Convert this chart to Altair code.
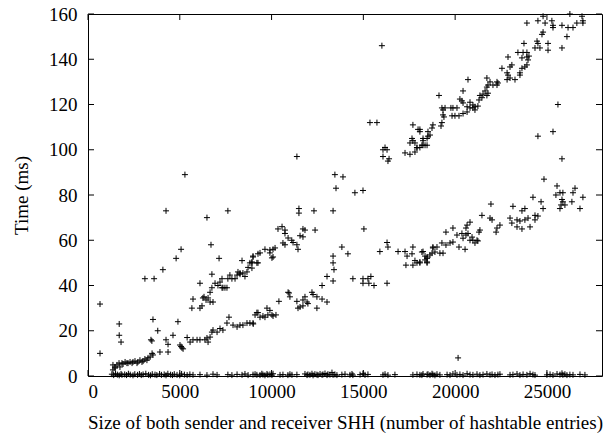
import altair as alt
import pandas as pd

# ---- data ----
x_ticks = [0, 5000, 10000, 15000, 20000, 25000]
y_ticks = [0, 20, 40, 60, 80, 100, 120, 140, 160]

# points lying on/near zero
zero_x = [1300, 1400, 1500, 1600, 1700, 1800, 1850, 2000, 2100, 2200, 2300, 2450, 2550, 2700, 2800,
          2900, 3000, 3150, 3300, 3400, 3500, 3650, 3750, 3900, 4000, 4150, 4250, 4350, 4500, 4600,
          4700, 4850, 5000, 5100, 5250, 5400, 5550, 5720, 6100, 6480, 6810, 7030, 7620, 7840, 8120,
          8390, 8550, 8720, 8990, 9200, 9100, 9370, 9470, 9530, 9640, 9750, 9800, 9910, 10020, 10080,
          10460, 10620, 10890, 11000, 11110, 11380, 11820, 11930, 11980, 12090, 12200, 12260, 12360,
          12470, 12530, 12640, 12750, 12800, 12910, 13020, 13070, 13180, 13290, 13350, 13450, 13560,
          13830, 14000, 14270, 14380, 14430, 14820, 14980, 15090, 15250, 16070, 16180, 16340, 16720,
          17700, 17920, 18190, 18250, 18470, 18080, 18520, 18630, 18740, 18790, 18900, 19010, 19170,
          19560, 19720, 19880, 20100, 20260, 20430, 20650, 20810, 20970, 21190, 21350, 21520, 21730,
          21900, 22010, 22170, 22330, 22440, 22990, 23150, 23370, 23530, 23700, 23910, 24080, 24240,
          24350, 25000, 25170, 25330, 25550, 25710, 25820, 25870, 25980, 26090, 26250, 26420, 26800,
          27070]
zero_y = [0.8, 0.4, 1.0, 0.6, 0.3, 0.9, 0.5, 0.7, 0.4, 1.0, 0.6, 0.3, 0.8, 0.5, 0.9,
          0.4, 0.7, 1.0, 0.5, 0.3, 0.8, 0.6, 0.4, 0.9, 0.5, 0.7, 0.3, 1.0, 0.6, 0.4,
          0.8, 0.5, 0.3, 0.9, 0.6, 0.4, 0.7, 0.5, 0.6, 0.4, 0.8, 0.5, 0.6, 0.4, 0.7,
          0.5, 0.9, 0.4, 0.6, 0.5, 0.8, 0.4, 1.0, 0.6, 0.3, 0.9, 0.5, 0.7, 0.4, 1.0,
          0.5, 0.6, 0.4, 0.8, 0.5, 0.6, 0.9, 0.4, 0.7, 0.5, 1.0, 0.3, 0.8, 0.6,
          0.4, 0.9, 0.5, 0.7, 1.1, 0.4, 0.8, 0.6, 1.5, 0.5, 0.7, 0.4,
          0.6, 0.8, 0.5, 0.9, 0.4, 0.6, 1.0, 0.5, 0.7, 0.5, 0.8, 0.4, 0.6,
          0.5, 0.7, 0.4, 0.9, 0.6, 0.5, 0.8, 0.4, 1.0, 0.6, 0.3, 0.8, 0.5,
          0.6, 0.4, 0.9, 0.5, 0.7, 0.4, 1.0, 0.6, 0.5, 0.8, 0.4, 0.6, 0.9,
          0.5, 0.7, 0.4, 0.6, 0.8, 0.5, 0.6, 0.9, 0.4, 0.7, 0.5, 1.0, 0.6,
          0.4, 0.5, 0.7, 0.4, 0.9, 0.6, 1.2, 0.5, 0.8, 0.4, 0.6, 0.5, 0.7,
          0.5]

# lowest rising band
lower_x = [1360, 1470, 1360, 1690, 1850, 2020, 2120, 2290, 2450, 2560, 2720, 2830, 3000, 3210, 3270,
           3380, 3490, 3540, 1470, 1580, 1740, 1910, 2180, 2400, 2670, 2940, 3100,
           5010, 5120, 5560, 5720, 5940, 6100, 6370, 6480, 6540, 6650, 6750, 6810, 7030, 7190, 7350,
           7570, 7680, 7900, 8120, 8280, 8440, 8660, 8820, 8990, 9100, 9200,
           9000, 9260, 9370, 9530, 9640, 9750, 9800, 9910, 10020, 10080, 10240, 10400, 10900, 11000,
           10950, 11380, 11440, 11550, 11710, 11820, 11930, 11980, 11710, 12200, 12260, 12470, 12470,
           12750, 13020,
           13020, 13350, 12750, 13350, 13350, 13400, 14430, 14980, 15250, 15410, 14980, 15300, 15580,
           16290, 16290, 16340, 15900, 16890, 17270, 17380, 17700, 17650, 17320, 17700, 17810, 17920,
           18080, 18250, 18360, 18470, 18470, 19340, 19170, 18900, 18630, 18470, 18360, 18470, 18190,
           18080, 18790, 18740, 19010, 18790, 19280, 19500, 19720, 19880, 20540, 20210, 21350, 21300,
           21240, 21080, 21190, 20970, 20810, 20920, 20700, 20590, 20430, 20370, 20100, 19500, 19880,
           20590, 20650, 20810, 22230, 22280, 22440, 21460, 22010, 21900, 21950, 23970, 23800, 23530,
           23370, 23090, 22990, 23640, 23370, 24080, 24350, 24510, 24350, 23800, 23640, 23150, 24790,
           24680, 24240, 25490, 25710, 25820, 25870, 25770, 25980, 25710, 26420, 26360, 26800, 26960,
           25550, 25870, 26530]
lower_y = [4.9, 3.5, 2.7, 5.7, 5.7, 6.2, 5.7, 6.2, 6.2, 6.6, 6.2, 7.0, 6.6, 7.0, 8.0,
           8.4, 10.0, 9.3, 4.0, 4.9, 4.0, 5.3, 5.7, 5.7, 5.7, 6.2, 7.5,
           13.7, 12.4, 15.0, 16.0, 16.0, 16.0, 16.0, 16.8, 15.0, 17.2, 19.4, 20.3, 19.4, 21.0, 20.3,
           23.4, 26.0, 22.5, 21.7, 22.5, 22.5, 23.4, 23.4, 23.4, 27.0, 28.0,
           23.0, 28.0, 26.0, 26.5, 26.0, 30.0, 27.0, 29.0, 27.0, 26.5, 27.0, 33.0, 37.0, 35.0,
           36.7, 33.0, 30.0, 30.5, 33.6, 35.0, 32.7, 32.0, 31.0, 37.0, 36.0, 35.0, 30.0,
           34.0, 32.7,
           44.0, 42.0, 40.0, 53.0, 50.0, 47.0, 43.0, 43.0, 43.0, 44.0, 41.0, 41.0, 40.0,
           41.0, 59.0, 57.0, 55.0, 55.0, 55.0, 53.0, 57.0, 54.0, 49.0, 49.0, 51.0, 50.0,
           50.0, 55.0, 53.0, 52.0, 50.0, 54.3, 54.3, 54.8, 53.5, 52.6, 51.3, 50.4, 54.8,
           50.4, 56.6, 54.3, 57.0, 57.0, 58.8, 57.9, 58.8, 59.2, 56.0, 57.0, 64.5, 63.6,
           59.7, 58.8, 60.0, 60.0, 60.0, 61.4, 63.0, 62.3, 60.9, 63.0, 62.3, 63.6, 65.4,
           65.4, 66.7, 68.0, 63.6, 65.4, 66.7, 71.0, 69.0, 69.8, 76.0, 69.8, 69.0, 68.5,
           69.0, 67.6, 69.8, 65.0, 65.9, 65.9, 69.0, 70.7, 71.0, 74.0, 73.0, 75.0, 74.0,
           77.0, 79.0, 80.0, 81.0, 78.0, 77.0, 75.6, 75.6, 74.0, 81.0, 77.0, 74.0, 79.0,
           84.0, 81.0, 83.0]

# middle band (6000 - 12000)
middle_x = [5720, 5660, 6100, 6210, 6260, 6320, 6430, 6540, 6810, 6650, 6750, 6920, 7080, 7190, 7300,
            7350, 7570, 7620, 7730, 7840, 8010, 8120, 8170, 8280, 8390, 8280, 8440, 8550, 8660, 8720,
            8820, 8930, 8990, 9200, 9260, 6650, 7460, 7300,
            9640, 9910, 10080, 10190, 9910, 10080, 10020, 9370, 9260, 8990, 8930, 8930,
            10350, 10570, 10730, 10730, 11710, 11820, 12370, 10900, 11100, 11170, 10620, 10730,
            11380, 11440, 11550, 11710, 11490, 11490, 12310, 13350]
middle_y = [34.0, 30.0, 30.0, 31.0, 34.5, 35.0, 33.6, 34.5, 32.7, 37.0, 39.0, 41.0, 40.0, 41.5, 43.0,
            39.0, 39.0, 43.0, 44.6, 43.0, 43.0, 44.6, 46.0, 45.5, 51.0, 45.0, 45.5, 44.0, 46.0, 48.0,
            50.0, 50.4, 53.0, 50.0, 54.0, 32.7, 39.0, 39.0,
            56.0, 55.7, 56.0, 56.6, 54.4, 52.6, 52.2, 54.4, 50.0, 52.6, 50.0, 47.7,
            65.0, 66.0, 64.5, 63.0, 65.0, 64.5, 64.5, 61.0, 60.0, 59.0, 58.8, 58.0,
            58.0, 56.0, 62.0, 61.5, 74.0, 72.0, 73.0, 73.0]

# upper band (16000 - 27000)
upper_x = [16180, 16070, 16290, 16070, 16400, 16340,
           17700, 17980, 18080, 18250, 18520, 17650, 17700, 17540, 17810, 17920, 18080, 18250, 18470,
           17270, 17540, 17810, 17920,
           18790, 18740, 19280, 19230, 18520, 18630, 18470, 18250, 18360, 18190, 18080,
           19280, 19450, 19770, 19880, 20100, 19340, 19340, 19390, 19830, 19990, 20210, 20430, 20650,
           21080, 20970,
           20260, 20370, 20430, 20810, 20650, 20810, 20970, 21080, 21240, 21350, 21460, 21300, 21520,
           21730, 21790, 21630, 21730, 21900, 21790, 22060, 22280, 22330, 22280, 21730,
           23420, 23700, 23910, 23640, 23910, 24020, 23970, 22880, 23090, 22550, 22830, 22990, 22880,
           22990, 23260, 22830, 23640, 23530, 23800, 23910, 23530,
           24730, 24790, 24460, 24510, 24620, 24350, 25060, 25060, 23750,
           24790, 24510, 23910, 24900, 25270, 25330, 25330, 25820, 26250, 26150, 26420, 26630, 26910,
           26960, 26960]
upper_y = [101.0, 100.0, 100.0, 97.0, 96.0, 95.0,
           111.0, 109.0, 108.0, 105.0, 106.0, 105.0, 104.0, 103.0, 103.0, 101.0, 101.0, 102.0, 102.0,
           98.6, 98.0, 99.0, 100.8,
           111.0, 109.6, 112.0, 110.5, 108.0, 106.5, 105.0, 104.0, 102.0, 102.0, 109.0,
           118.5, 118.5, 118.5, 118.5, 118.5, 117.6, 115.4, 114.5, 115.0, 115.0, 115.0, 116.0, 116.7,
           117.6, 118.5,
           122.4, 121.6, 120.7, 121.0, 119.0, 118.5, 119.8, 119.0, 119.3, 124.0, 123.0, 122.0, 124.6,
           124.0, 125.0, 126.0, 127.7, 130.0, 128.6, 128.6, 128.6, 129.5, 130.0, 131.7,
           143.0, 143.0, 143.0, 140.6, 141.0, 141.4, 139.7, 141.0, 137.5, 136.0, 134.0, 136.6, 133.0,
           131.7, 131.0, 131.0, 136.0, 134.0, 136.6, 137.5, 133.0,
           151.0, 152.0, 148.0, 147.0, 145.0, 145.0, 147.0, 144.0, 147.0,
           159.0, 157.0, 156.0, 156.0, 157.0, 155.0, 154.0, 155.0, 160.0, 154.0, 154.0, 156.0, 159.0,
           157.0, 156.0]

# scattered outliers
outlier_x = [654, 654, 4250, 6480, 7620, 6700, 5070, 4800, 7140, 4080, 3100, 3600, 6100, 6750, 3540,
             1700, 1700, 1800, 3800, 4900, 3430, 3480, 4250, 4360, 4630, 3920, 4360, 5070, 5180, 5400,
             5280, 16010, 15360, 15740, 11380, 13450, 13890, 13510, 14540, 14980, 15030, 13830, 14160,
             20160, 25600, 25330, 24510, 25820, 24840, 26090, 25820, 20700, 20430, 19120]
outlier_y = [31.8, 10.0, 73.0, 70.0, 73.0, 58.0, 56.0, 52.0, 52.0, 47.0, 43.0, 43.0, 41.0, 45.0, 25.0,
             23.0, 18.0, 15.0, 20.0, 24.0, 16.0, 15.5, 16.0, 14.0, 18.0, 10.6, 10.6, 13.0, 12.0, 17.0,
             89.0, 146.0, 112.0, 112.0, 97.0, 89.0, 88.0, 83.0, 81.0, 82.0, 65.0, 57.0, 54.0,
             8.0, 120.0, 108.0, 106.0, 96.0, 87.0, 150.0, 145.0, 131.0, 126.0, 124.0]

rows = []
for xs, ys in [(zero_x, zero_y), (lower_x, lower_y), (middle_x, middle_y),
               (upper_x, upper_y), (outlier_x, outlier_y)]:
    rows += list(zip(xs, ys))
df = pd.DataFrame(rows, columns=["size", "time"])

W, H = 514, 362
FONT = "Liberation Serif"
FS = 19

xscale = alt.Scale(domain=[0, 28000], nice=False, zero=False)
yscale = alt.Scale(domain=[0, 160], nice=False)

x_axis = alt.Axis(values=x_ticks, format="d",
                  title="Size of both sender and receiver SHH (number of hashtable entries)",
                  labelPadding=6, titlePadding=12)
y_axis = alt.Axis(values=y_ticks, format="d", title="Time (ms)",
                  labelPadding=11, titlePadding=17)

plus = "M-1,0L1,0M0,-1L0,1"
points = alt.Chart(df).mark_point(
    shape=plus, filled=False, stroke="black", strokeWidth=1, size=36, opacity=1
).encode(
    x=alt.X("size:Q", scale=xscale, axis=x_axis),
    y=alt.Y("time:Q", scale=yscale, axis=y_axis),
)

xt = pd.DataFrame({"size": x_ticks})
yt = pd.DataFrame({"time": y_ticks})
tick_len = 6
xb = alt.Chart(xt).mark_rule(color="black", strokeWidth=1).encode(
    x=alt.X("size:Q", scale=xscale, axis=x_axis), y=alt.value(H), y2=alt.value(H - tick_len))
xtp = alt.Chart(xt).mark_rule(color="black", strokeWidth=1).encode(
    x=alt.X("size:Q", scale=xscale, axis=x_axis), y=alt.value(0), y2=alt.value(tick_len))
yl = alt.Chart(yt).mark_rule(color="black", strokeWidth=1).encode(
    y=alt.Y("time:Q", scale=yscale, axis=y_axis), x=alt.value(0), x2=alt.value(tick_len))
yr = alt.Chart(yt).mark_rule(color="black", strokeWidth=1).encode(
    y=alt.Y("time:Q", scale=yscale, axis=y_axis), x=alt.value(W), x2=alt.value(W - tick_len))

chart = alt.layer(points, xb, xtp, yl, yr).properties(
    width=W, height=H,
    autosize=alt.AutoSizeParams(type="none"),
    padding={"left": 88, "top": 14, "right": 6, "bottom": 60},
    background="white",
).configure_view(
    stroke="black", strokeWidth=1
).configure_axis(
    domain=False, ticks=False, grid=False,
    labelFont=FONT, labelFontSize=FS, labelColor="black",
    titleFont=FONT, titleFontSize=FS, titleFontWeight="normal", titleColor="black",
)

chart.save("out.html", embed_options={"renderer": "svg", "actions": False})
